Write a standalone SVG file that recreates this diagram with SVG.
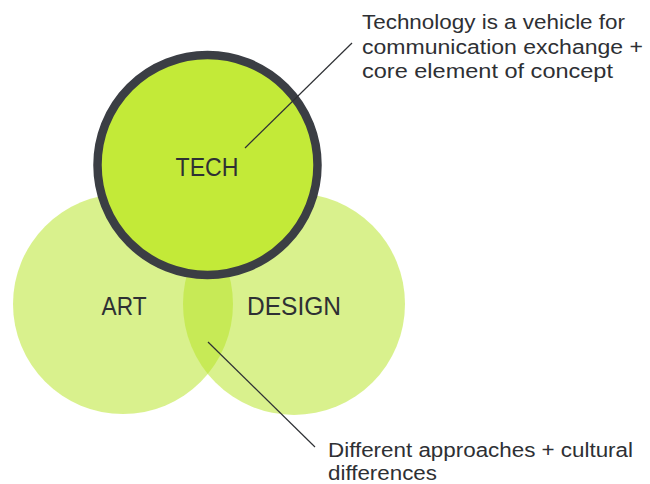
<svg xmlns="http://www.w3.org/2000/svg" width="650" height="484" viewBox="0 0 650 484">
  <style>
    .soft { fill: #b6e524; fill-opacity: 0.52; }
    .label { font-family: "Liberation Sans", Arial, sans-serif; fill: #2e3034; }
    .big { font-size: 26px; text-anchor: middle; }
    .note { font-size: 20px; }
    .leader { stroke: #2e3034; stroke-width: 1.2; fill: none; }
  </style>
  <rect width="650" height="484" fill="#ffffff"/>

  <g id="art">
    <circle class="soft" cx="123" cy="304" r="110"/>
    <text class="label big" x="124" y="315" textLength="45" lengthAdjust="spacingAndGlyphs">ART</text>
  </g>

  <g id="design">
    <circle class="soft" cx="294" cy="304" r="111"/>
    <text class="label big" x="294" y="315" textLength="94" lengthAdjust="spacingAndGlyphs">DESIGN</text>
  </g>

  <g id="tech">
    <circle cx="207.5" cy="165" r="110" fill="#c3ea38" stroke="#3b3e44" stroke-width="8.5"/>
    <text class="label big" x="207" y="176" textLength="63" lengthAdjust="spacingAndGlyphs">TECH</text>
  </g>

  <g id="connectors">
    <line class="leader" x1="245" y1="148" x2="352" y2="43"/>
    <line class="leader" x1="208" y1="342" x2="315" y2="447"/>
  </g>

  <g id="note-tech">
    <text class="label note" x="362" y="29" textLength="263" lengthAdjust="spacingAndGlyphs">Technology is a vehicle for</text>
    <text class="label note" x="362" y="53.5" textLength="281" lengthAdjust="spacingAndGlyphs">communication exchange +</text>
    <text class="label note" x="362" y="78" textLength="251" lengthAdjust="spacingAndGlyphs">core element of concept</text>
  </g>

  <g id="note-overlap">
    <text class="label note" x="328" y="457" textLength="305" lengthAdjust="spacingAndGlyphs">Different approaches + cultural</text>
    <text class="label note" x="328" y="480" textLength="109" lengthAdjust="spacingAndGlyphs">differences</text>
  </g>
</svg>
